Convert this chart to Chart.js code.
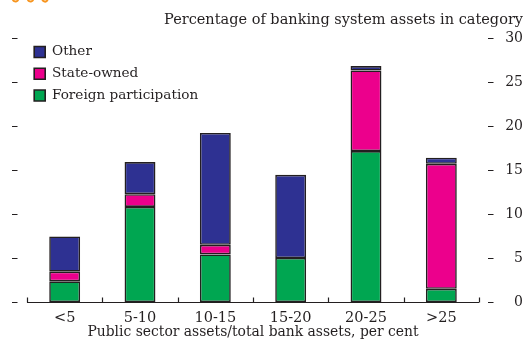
<!DOCTYPE html>
<html>
<head>
<meta charset="utf-8">
<script src="https://cdn.jsdelivr.net/npm/chart.js@4"></script>
<style>
  html, body { margin: 0; padding: 0; background: #fff; }
  #wrap { width: 523px; height: 339px; position: relative; }
</style>
</head>
<body>
<div id="wrap"><canvas id="c"></canvas></div>
<script>
// Banking system assets by public-sector share of bank assets
const categories = ['<5', '5-10', '10-15', '15-20', '20-25', '>25'];
const foreignParticipation = [2.35, 10.8, 5.4, 5.0, 17.15, 1.5];
const stateOwned = [1.1, 1.45, 1.1, 0, 9.15, 14.2];
const other = [4.0, 3.65, 12.7, 9.45, 0.5, 0.7];
const yTicks = [0, 5, 10, 15, 20, 25, 30];

const SERIF = '"DejaVu Serif", "Liberation Serif", serif';
const INK = '#231f20';

// Keep the in-plot legend anchored near the top-left of the plotting area
const legendInPlot = {
  id: 'legendInPlot',
  afterLayout(chart) {
    const lg = chart.legend;
    if (!lg) return;
    const h = lg.bottom - lg.top;
    const w = lg.right - lg.left;
    lg.top = chart.chartArea.top - 1;
    lg.bottom = lg.top + h;
    lg.left = chart.chartArea.left - 1;
    lg.right = lg.left + w;
  }
};

// Short tick dashes on both sides, category ticks on the baseline, and the small header marks
const decorations = {
  id: 'decorations',
  afterDraw(chart) {
    const ctx = chart.ctx;
    const y = chart.scales.y;
    const x = chart.scales.x;
    const area = chart.chartArea;
    ctx.save();
    ctx.strokeStyle = INK;
    ctx.lineWidth = 1.2;
    yTicks.forEach(v => {
      const py = Math.round(y.getPixelForValue(v)) + 0.5;
      ctx.beginPath();
      ctx.moveTo(12, py); ctx.lineTo(17.5, py);
      ctx.moveTo(area.right + 9, py); ctx.lineTo(area.right + 14.5, py);
      ctx.stroke();
    });
    // baseline with upward ticks at category boundaries
    const base = Math.round(y.getPixelForValue(0)) + 0.5;
    ctx.beginPath();
    ctx.moveTo(area.left, base); ctx.lineTo(area.right, base);
    const step = x.getPixelForValue(1) - x.getPixelForValue(0);
    for (let i = 0; i <= categories.length; i++) {
      const px = Math.round(x.getPixelForValue(0) - step / 2 + i * step) + 0.5;
      ctx.moveTo(px, base); ctx.lineTo(px, base - 5);
    }
    ctx.stroke();
    // orange header marks
    ctx.strokeStyle = '#f7941d';
    ctx.lineWidth = 2;
    [15.5, 30.5, 45].forEach(cx => {
      ctx.beginPath();
      ctx.arc(cx, -1.5, 3, 0.15 * Math.PI, 0.85 * Math.PI);
      ctx.stroke();
    });
    ctx.restore();
  }
};

new Chart(document.getElementById('c'), {
  type: 'bar',
  data: {
    labels: categories,
    datasets: [
      { label: 'Foreign participation', data: foreignParticipation, backgroundColor: '#00a651' },
      { label: 'State-owned', data: stateOwned, backgroundColor: '#ec008c' },
      { label: 'Other', data: other, backgroundColor: '#2e3192' }
    ].map(d => Object.assign(d, {
      borderColor: INK,
      borderWidth: 1.6,
      borderSkipped: false,
      categoryPercentage: 1,
      barPercentage: 0.41
    }))
  },
  options: {
    responsive: true,
    maintainAspectRatio: false,
    animation: false,
    layout: { padding: { left: 27, right: 0, top: 0, bottom: 0 } },
    plugins: {
      tooltip: { enabled: false },
      title: {
        display: true,
        text: 'Percentage of banking system assets in category',
        align: 'end',
        color: INK,
        font: { family: SERIF, size: 14.5, weight: 'normal', lineHeight: 1.1 },
        padding: { top: 12, bottom: 10 }
      },
      legend: {
        position: 'chartArea',
        align: 'start',
        reverse: true,
        labels: {
          color: INK,
          boxWidth: 11,
          boxHeight: 11,
          padding: 8.2,
          font: { family: SERIF, size: 13.6 }
        }
      }
    },
    scales: {
      x: {
        stacked: true,
        grid: { display: false, drawTicks: false },
        border: { display: false },
        ticks: { color: INK, padding: 8, font: { family: SERIF, size: 14.5 } },
        title: {
          display: true,
          text: 'Public sector assets/total bank assets, per cent',
          color: INK,
          font: { family: SERIF, size: 13.9, lineHeight: 1 },
          padding: { top: 0, bottom: 0 }
        },
        afterFit(s) { s.height = 37; }
      },
      y: {
        stacked: true,
        position: 'right',
        min: 0,
        max: 30,
        grid: { display: false, drawTicks: false },
        border: { display: false },
        ticks: {
          stepSize: 5,
          crossAlign: 'far',
          padding: 21,
          color: INK,
          font: { family: SERIF, size: 14 }
        },
        afterFit(s) { s.width = 44; }
      }
    }
  },
  plugins: [legendInPlot, decorations]
});
</script>
</body>
</html>
